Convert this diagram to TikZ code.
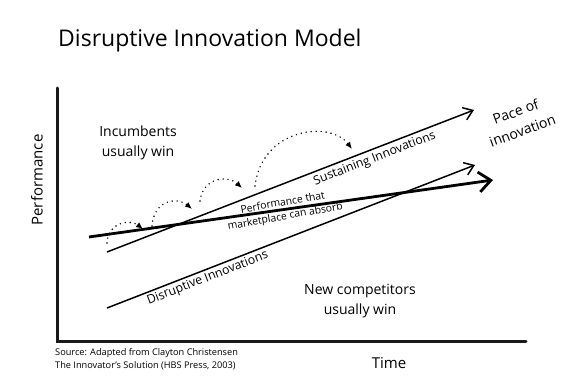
\documentclass[tikz,border=0pt]{standalone}
\usepackage{fontspec}
\setmainfont{Open Sans}
\usetikzlibrary{arrows.meta}
\begin{document}
\begin{tikzpicture}[x=1pt,y=-1pt,
  lbl/.style={inner sep=0pt, align=center, text=black},
  axisline/.style={line width=3pt, line cap=round, color=black!90},
  pacearrow/.style={line width=1.5pt, -{Straight Barb[length=9pt,width=13pt,line width=1.5pt]}},
  absorbarrow/.style={line width=2.8pt, -{Straight Barb[length=12pt,width=20pt,line width=2.8pt]}},
  hop/.style={line width=1.6pt, line cap=round, dash pattern=on 0pt off 5pt, -{Latex[length=7pt,width=6pt]}},
]
\useasboundingbox (0,0) rectangle (582,388);

% title
\node[lbl, anchor=base west, font=\fontsize{23}{26}\selectfont] (title) at (58,46) {Disruptive Innovation Model};

% axes
\coordinate (ytop) at (57,88);
\coordinate (o) at (57,341);
\coordinate (xend) at (526,341);
\draw[axisline] (ytop) -- (o) -- (xend);

\node[lbl, rotate=90, font=\fontsize{15}{18}\selectfont] (perf) at (37,180) {Performance};
\node[lbl, font=\fontsize{15}{18}\selectfont] (time) at (389,363) {Time};

% region labels
\node[lbl, font=\fontsize{14}{20}\selectfont] (inc) at (138,143) {Incumbents\\usually win};
\node[lbl, font=\fontsize{14}{20}\selectfont] (newc) at (360,301) {New competitors\\usually win};
\node[lbl, rotate=20, font=\fontsize{14}{20}\selectfont] (pace) at (519,121) {Pace of\\innovation};

% source
\node[lbl, anchor=north west, align=left, font=\fontsize{9.2}{13}\selectfont] (src) at (55,348)
  {Source: Adapted from Clayton Christensen\\The Innovator's Solution (HBS Press, 2003)};

% lines
\coordinate (s0) at (107,252);
\coordinate (s1) at (474,110);
\coordinate (d0) at (107,308);
\coordinate (d1) at (475,165);
\coordinate (p0) at (89,237);
\coordinate (p1) at (493,180);

\draw[pacearrow] (s0) -- (s1)
  node[lbl, pos=0.72, sloped, below=3pt, font=\fontsize{12.3}{14}\selectfont] (sustlbl) {Sustaining Innovations};
\draw[pacearrow] (d0) -- (d1)
  node[lbl, pos=0.265, sloped, below=2pt, font=\fontsize{12.3}{14}\selectfont] (disrlbl) {Disruptive Innovations};
\draw[absorbarrow] (p0) -- (p1);
\node[lbl, rotate=10, font=\fontsize{10.4}{14}\selectfont] (absorb) at (284,210) {Performance that\\marketplace can absorb};

% dotted hops
\coordinate (h1a) at (107,243); \coordinate (h1b) at (143,229);
\coordinate (h2a) at (152,226); \coordinate (h2b) at (192,209);
\coordinate (h3a) at (200,201); \coordinate (h3b) at (242,188);
\coordinate (h4a) at (255,186); \coordinate (h4b) at (352,149);
\draw[hop] (h1a) .. controls (108,222) and (130,219) .. (h1b);
\draw[hop] (h2a) .. controls (154,199) and (178,197) .. (h2b);
\draw[hop] (h3a) .. controls (203,177) and (228,175) .. (h3b);
\draw[hop] (h4a) .. controls (262,128) and (330,120) .. (h4b);
\end{tikzpicture}
\end{document}
